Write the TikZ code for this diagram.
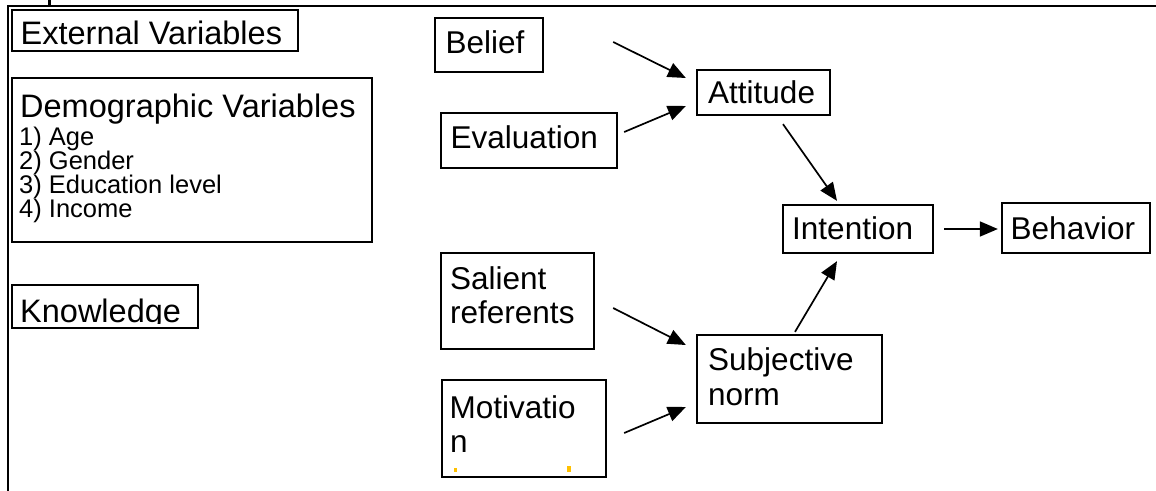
\documentclass[tikz,border=0pt]{standalone}
\usepackage{fontspec}
\setmainfont{Liberation Sans}
\usetikzlibrary{arrows.meta,calc}
\definecolor{marky}{RGB}{255,192,0}
\begin{document}
\begin{tikzpicture}[x=1pt,y=-1pt,
  box/.style={draw,line width=2.3pt,inner sep=0pt,rectangle},
  lbl/.style={inner sep=0pt,anchor=base west,font=\fontsize{31.5}{34}\selectfont},
  big/.style={inner sep=0pt,anchor=base west,font=\fontsize{32.5}{34}\selectfont},
  small/.style={inner sep=0pt,anchor=base west,font=\fontsize{25.5}{24}\selectfont},
  arr/.style={line width=1.7pt,-{Triangle[length=18pt,width=15pt]}},
  frame/.style={line width=2.5pt}]
\useasboundingbox (0,0) rectangle (1156,490);
% outer frame
\coordinate (ftl) at (8,6);
\coordinate (ftr) at (1157,6);
\coordinate (fbl) at (8,491);
\draw[frame] (ftr) -- (ftl) -- (fbl);
\fill (47.5,0) rectangle (50.5,5);
% left column
\node[box,minimum width=286pt,minimum height=41pt] (ext) at (155,30.5) {};
\node[big] at (20.5,44) {External Variables};
\node[box,minimum width=360pt,minimum height=164pt] (demo) at (192,160) {};
\node[big] at (20,117) {Demographic Variables};
\node[small] at (19,145) {1) Age};
\node[small] at (19,169) {2) Gender};
\node[small] at (19,193) {3) Education level};
\node[small] at (19,217) {4) Income};
\begin{scope}
  \clip (13,286) rectangle (197,323);
  \node[big] at (20,322) {Knowledge};
\end{scope}
\node[box,minimum width=186pt,minimum height=43pt] (know) at (105,306.5) {};
% right part
\node[box,minimum width=108pt,minimum height=54pt] (belief) at (489,45) {};
\node[lbl] at (445.5,53) {Belief};
\node[box,minimum width=176pt,minimum height=55pt] (eval) at (529,140.5) {};
\node[lbl] at (450.5,148) {Evaluation};
\node[box,minimum width=133pt,minimum height=45pt] (att) at (763.5,92.5) {};
\node[lbl] at (708,103) {Attitude};
\node[box,minimum width=150pt,minimum height=48pt] (int) at (858,229) {};
\node[lbl] at (792,239) {Intention};
\node[box,minimum width=148pt,minimum height=50pt] (beh) at (1076,228) {};
\node[lbl] at (1010.5,239) {Behavior};
\node[box,minimum width=153pt,minimum height=96pt] (sal) at (517.5,301) {};
\node[lbl] at (450,289) {Salient};
\node[lbl] at (450,323) {referents};
\node[box,minimum width=164pt,minimum height=97pt] (mot) at (524,428.5) {};
\node[lbl] at (449.5,418) {Motivatio};
\node[lbl] at (450,452) {n};
\fill[marky] (453.5,468) rectangle (456.5,472);
\fill[marky] (567,466) rectangle (570.5,472);
\node[box,minimum width=185pt,minimum height=88pt] (subj) at (789.5,379) {};
\node[lbl] at (708,370) {Subjective};
\node[lbl] at (708,405) {norm};
% arrows
\draw[arr] ($(belief.east)+(69,-3)$) -- ($(att.west)+(-10,-14.5)$);
\draw[arr] ($(eval.east)+(6,-8.5)$) -- ($(att.west)+(-10,13.5)$);
\draw[arr] ($(att.south)+(19.5,8)$) -- ($(int.north)+(-21,-3)$);
\draw[arr] ($(int.east)+(10,0)$) -- ($(beh.west)+(-3,1)$);
\draw[arr] ($(sal.east)+(18,7)$) -- ($(subj.west)+(-10,-34)$);
\draw[arr] ($(mot.east)+(17,4.5)$) -- ($(subj.west)+(-10,28)$);
\draw[arr] ($(subj.north)+(5.5,-2)$) -- ($(int.south)+(-21,7)$);
\end{tikzpicture}
\end{document}
